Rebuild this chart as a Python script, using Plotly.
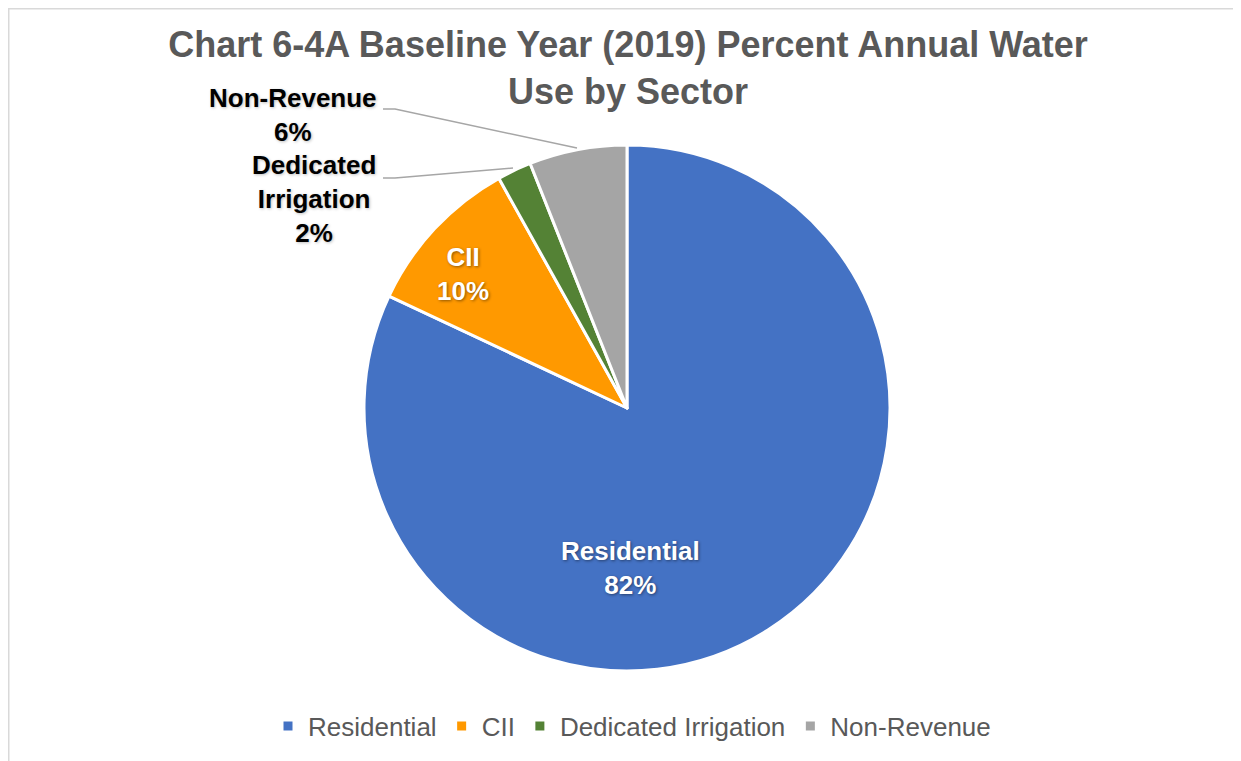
import plotly.graph_objects as go

# data
sectors = ['Residential', 'CII', 'Dedicated Irrigation', 'Non-Revenue']
shares = [82.0, 9.9, 2.1, 6.0]
colors = ['#4472C4', '#FF9900', '#548235', '#A5A5A5']

W, H = 1241, 761
OFF = 8  # page body margin of the html output


def px(x, y):
    # screen pixel position -> paper coordinates (margins are zero)
    return (x - OFF) / W, 1 - (y - OFF) / H


total = sum(shares)
pct = [f'{round(v / total * 100):.0f}%' for v in shares]

fig = go.Figure()
x0, y1 = px(364, 145)
x1, y0 = px(890, 671)
fig.add_trace(go.Pie(
    labels=sectors,
    values=shares,
    sort=False,
    direction='clockwise',
    rotation=0,
    marker=dict(colors=colors, line=dict(color='white', width=3)),
    textinfo='none',
    hoverinfo='label+percent',
    domain=dict(x=[x0, x1], y=[y0, y1]),
))

# data labels (Excel style)
label_font = dict(family='Arial', size=26, weight='bold')
inside = {'Residential': (630, 568), 'CII': (463, 274)}
outside = {'Non-Revenue': (293, 115), 'Dedicated Irrigation': (314, 199)}
for name, p, in zip(sectors, pct):
    if name in inside:
        x, y = px(*inside[name])
        txt = f'{name}<br>{p}'
        fnt = dict(label_font, color='white', shadow='1px 1px 3px rgba(0,0,0,0.45)')
    else:
        x, y = px(*outside[name])
        txt = name.replace(' ', '<br>') + f'<br>{p}'
        fnt = dict(label_font, color='black', shadow='1px 1px 3px rgba(0,0,0,0.25)')
    fig.add_annotation(x=x, y=y, xref='paper', yref='paper', text=txt,
                       xanchor='center', yanchor='middle',
                       showarrow=False, font=fnt, align='center')

# leader lines
leaders = [
    [(383, 109), (395, 109), (577, 148)],
    [(383, 178), (395, 178), (513, 168)],
]
for pts in leaders:
    path = 'M ' + ' L '.join(f'{px(a, b)[0]} {px(a, b)[1]}' for a, b in pts)
    fig.add_shape(type='path', path=path, xref='paper', yref='paper',
                  line=dict(color='#A6A6A6', width=1.5))

# chart area border (only top/left visible in the crop)
fig.add_shape(type='rect', xref='paper', yref='paper',
              x0=0.5 / W, x1=1.02, y0=-0.02, y1=1 - 0.5 / H,
              line=dict(color='#D9D9D9', width=2))

tx, ty = px(628, 57)
lx, ly = px(632, 726)
fig.update_layout(
    width=W, height=H,
    margin=dict(l=0, r=0, t=0, b=0),
    paper_bgcolor='white',
    plot_bgcolor='white',
    title=dict(
        text='Chart 6-4A Baseline Year (2019) Percent Annual Water<br>Use by Sector',
        x=tx, xanchor='center', xref='paper',
        y=ty, yanchor='middle', yref='container',
        font=dict(family='Arial', size=36, color='#595959', weight='bold'),
    ),
    legend=dict(
        orientation='h',
        x=lx, xanchor='center',
        y=ly, yanchor='middle',
        font=dict(family='Arial', size=26, color='#595959'),
        itemclick=False,
    ),
)

fig.write_html('out.html')
